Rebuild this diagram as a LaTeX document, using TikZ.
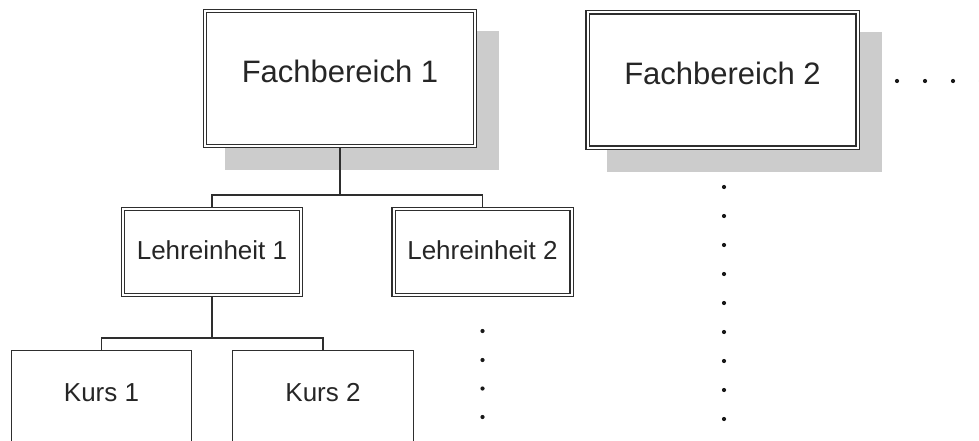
\documentclass[tikz,border=0pt]{standalone}
\usepackage{fontspec}
\setmainfont{Liberation Sans}
\pgfdeclarelayer{background}
\pgfsetlayers{background,main}
\definecolor{linegray}{HTML}{2E2E2E}
\definecolor{shadowgray}{HTML}{CCCCCC}
\definecolor{textgray}{HTML}{262626}
\begin{document}
\begin{tikzpicture}[x=1pt,y=-1pt,
  dblbox/.style={draw=linegray, line width=1.2pt, double=white, double distance=2pt,
    fill=white, outer sep=2.2pt, inner sep=0pt, text=textgray},
  fbbox/.style={dblbox, minimum width=270pt, minimum height=135pt,
    font=\fontsize{31}{36}\selectfont, text height=22pt, text depth=13pt},
  lebox/.style={dblbox, minimum width=178pt, minimum height=86pt,
    font=\fontsize{26}{30}\selectfont, text height=20pt, text depth=6pt},
  kursbox/.style={draw=linegray, line width=1.4pt, fill=white, inner sep=0pt,
    minimum width=180.5pt, minimum height=92pt, text=textgray,
    font=\fontsize{26}{30}\selectfont, text height=20pt, text depth=10pt},
  conn/.style={draw=linegray, line width=1.5pt},
  ellipsisdot/.style={fill=black!90}
]
\useasboundingbox (0,0) rectangle (979,441);

% top level
\node[fbbox] (fb1) at (340,78.5) {Fachbereich 1};
\node[fbbox] (fb2) at (722.5,80) {Fachbereich 2};

% second level
\node[lebox] (le1) at (212,252) {Lehreinheit 1};
\node[lebox] (le2) at (482.5,252) {Lehreinheit 2};

% third level
\node[kursbox] (k1) at (101.5,396.6) {Kurs 1};
\node[kursbox] (k2) at (323,396.6) {Kurs 2};

% drop shadows behind the top-level boxes
\begin{pgfonlayer}{background}
  \fill[white] (0,0) rectangle (979,441);
  \foreach \n in {fb1,fb2}
    \fill[shadowgray] ([shift={(22,22)}]\n.north west) rectangle ([shift={(22,22)}]\n.south east);
\end{pgfonlayer}

% tree connectors
\coordinate (j1) at (340,195);
\coordinate (j2) at (212,338);
\draw[conn] (fb1.south) -- (j1);
\draw[conn] (le1.north) |- (j1) -| (le2.north);
\draw[conn] (le1.south) -- (j2);
\draw[conn] (k1.north) |- (j2) -| (k2.north);

% continuation dots
\foreach \x in {897,925,953,981}
  \fill[ellipsisdot] (\x,81) circle (2.1);
\foreach \y in {187,216,245,274,303,332,361,390,419}
  \fill[ellipsisdot] (724,\y) circle (2.1);
\foreach \y in {331,360,388.5,417}
  \fill[ellipsisdot] (482.5,\y) circle (2.1);
\end{tikzpicture}
\end{document}
